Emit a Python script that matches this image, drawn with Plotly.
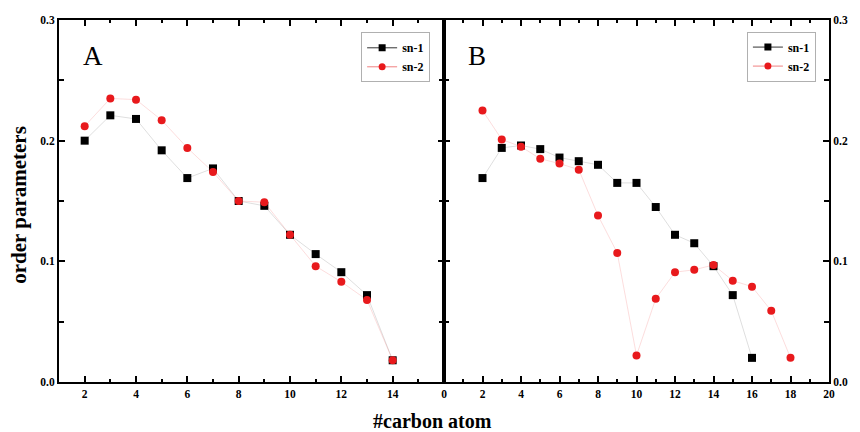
import plotly.graph_objects as go

# Panel A
a_x = [2, 3, 4, 5, 6, 7, 8, 9, 10, 11, 12, 13, 14]
a_sn1 = [0.200, 0.221, 0.218, 0.192, 0.169, 0.177, 0.150, 0.146, 0.122, 0.106, 0.091, 0.072, 0.018]
a_sn2 = [0.212, 0.235, 0.234, 0.217, 0.194, 0.174, 0.150, 0.149, 0.122, 0.096, 0.083, 0.068, 0.018]

# Panel B
b_x1 = [2, 3, 4, 5, 6, 7, 8, 9, 10, 11, 12, 13, 14, 15, 16]
b_sn1 = [0.169, 0.194, 0.196, 0.193, 0.186, 0.183, 0.180, 0.165, 0.165, 0.145, 0.122, 0.115, 0.096, 0.072, 0.020]
b_x2 = [2, 3, 4, 5, 6, 7, 8, 9, 10, 11, 12, 13, 14, 15, 16, 17, 18]
b_sn2 = [0.225, 0.201, 0.195, 0.185, 0.181, 0.176, 0.138, 0.107, 0.022, 0.069, 0.091, 0.093, 0.097, 0.084, 0.079, 0.059, 0.020]

a_xticks = [2, 4, 6, 8, 10, 12, 14]
b_xticks = [0, 2, 4, 6, 8, 10, 12, 14, 16, 18, 20]
y_ticks = [0.0, 0.1, 0.2, 0.3]

SERIF = "Liberation Serif"
BLACK = "#000000"
RED = "#e8191c"

fig = go.Figure()

def add_panel(xa, ya, leg, x1, y1, x2, y2):
    fig.add_trace(go.Scatter(x=x1, y=y1, mode="lines+markers", name="sn-1",
                             xaxis=xa, yaxis=ya, showlegend=False,
                             line=dict(color="rgba(0,0,0,0.13)", width=1),
                             marker=dict(symbol="square", size=8, color=BLACK)))
    fig.add_trace(go.Scatter(x=x2, y=y2, mode="lines+markers", name="sn-2",
                             xaxis=xa, yaxis=ya, showlegend=False,
                             line=dict(color="rgba(232,25,28,0.15)", width=1),
                             marker=dict(symbol="circle", size=8, color=RED)))
    # legend entries
    fig.add_trace(go.Scatter(x=[None], y=[None], mode="lines+markers", name="sn-1",
                             xaxis=xa, yaxis=ya, legend=leg,
                             line=dict(color="#333333", width=1),
                             marker=dict(symbol="square", size=7, color=BLACK)))
    fig.add_trace(go.Scatter(x=[None], y=[None], mode="lines+markers", name="sn-2",
                             xaxis=xa, yaxis=ya, legend=leg,
                             line=dict(color="#f08080", width=1),
                             marker=dict(symbol="circle", size=7, color=RED)))

add_panel("x", "y", "legend", a_x, a_sn1, a_x, a_sn2)
add_panel("x2", "y2", "legend2", b_x1, b_sn1, b_x2, b_sn2)

tickfont = dict(family=SERIF, size=11.5, color=BLACK, weight="bold")
common_x = dict(showline=True, linecolor=BLACK, linewidth=2, mirror="ticks",
                ticks="inside", ticklen=6, tickwidth=1.5, tickcolor=BLACK,
                minor=dict(dtick=1, ticks="inside", ticklen=3, tickwidth=1.5, tickcolor=BLACK),
                showgrid=False, zeroline=False, tickfont=tickfont)
common_y = dict(showline=True, linecolor=BLACK, linewidth=2, mirror="ticks",
                ticks="inside", ticklen=6, tickwidth=1.5, tickcolor=BLACK,
                minor=dict(dtick=0.05, ticks="inside", ticklen=5, tickwidth=1.5, tickcolor=BLACK),
                showgrid=False, zeroline=False, tickfont=tickfont,
                range=[0, 0.3], tickvals=y_ticks, tickformat=".1f")

legfont = dict(family=SERIF, size=12, color=BLACK, weight="bold")
legcommon = dict(font=legfont, bordercolor="#b0b0b0", borderwidth=1, bgcolor="white",
                 xanchor="right", yanchor="top", itemwidth=30, tracegroupgap=0)

fig.update_layout(
    width=860, height=432,
    margin=dict(l=59, r=25, t=20, b=50),
    plot_bgcolor="white", paper_bgcolor="white",
    xaxis=dict(domain=[0, 0.5], range=[1, 16], tickvals=a_xticks, **common_x),
    yaxis=dict(domain=[0, 1], anchor="x", **common_y),
    xaxis2=dict(domain=[0.5, 1], range=[0, 20], tickvals=b_xticks, anchor="y2", **common_x),
    yaxis2=dict(domain=[0, 1], anchor="x2", side="right", **common_y),
    legend=dict(x=0.482, y=0.966, **legcommon),
    legend2=dict(x=0.983, y=0.968, **legcommon),
    annotations=[
        dict(text="A", xref="x domain", yref="y domain", x=0.057, y=0.9, xanchor="left",
             yanchor="middle", showarrow=False, font=dict(family=SERIF, size=27, color=BLACK)),
        dict(text="B", xref="x2 domain", yref="y2 domain", x=0.057, y=0.9, xanchor="left",
             yanchor="middle", showarrow=False, font=dict(family=SERIF, size=27, color=BLACK)),
        dict(text="#carbon atom", xref="paper", yref="paper", x=0.4845, y=-0.072,
             xanchor="center", yanchor="top", showarrow=False,
             font=dict(family=SERIF, size=20, color=BLACK, weight="bold")),
        dict(text="order parameters", xref="paper", yref="paper", x=-0.053, y=0.49,
             xanchor="center", yanchor="middle", textangle=-90, showarrow=False,
             font=dict(family=SERIF, size=21, color=BLACK, weight="bold")),
    ],
)

fig.write_html("out.html", config={"displayModeBar": False},
               post_script="document.body.style.margin='0';document.body.style.overflow='hidden';")
